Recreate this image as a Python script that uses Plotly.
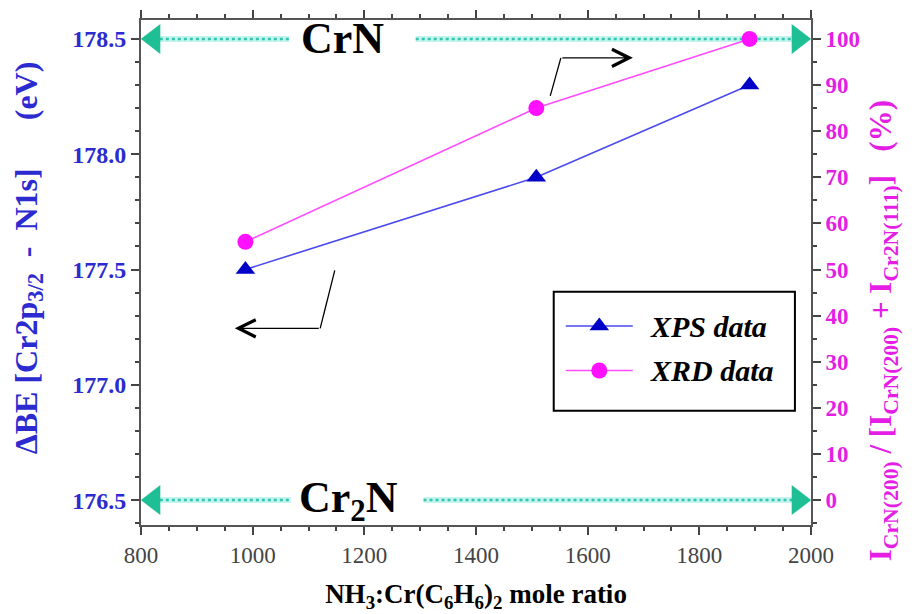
import plotly.graph_objects as go

# ---- data ----
mole_ratio = [987, 1508, 1890]
xps_be = [177.5, 177.9, 178.3]
xrd_pct = [56, 85, 100]

phase_names = ["CrN", "Cr<sub>2</sub>N"]
phase_be = [178.5, 176.5]
phase_label_x = [1160, 1172]
phase_gap_left = [1065, 1068]
phase_gap_right = [1292, 1306]

x_tickvals = [800, 1000, 1200, 1400, 1600, 1800, 2000]
y_tickvals = [176.5, 177.0, 177.5, 178.0, 178.5]
y_ticktext = ["176.5", "177.0", "177.5", "178.0", "178.5"]
y2_tickvals = [0, 10, 20, 30, 40, 50, 60, 70, 80, 90, 100]

legend_names = ["XPS data", "XRD data"]

# pointer arrows (start -> corner -> tip), in data units
lower_ptr_x = [1147, 1121, 968]
lower_ptr_y = [177.496, 177.245, 177.245]
upper_ptr_x = [1533, 1552, 1681]
upper_ptr_y = [178.253, 178.418, 178.418]

SERIF = "Liberation Serif"
BLUE = "#2b2bd0"
MAGENTA = "#e51ee5"
TEAL = "#1fbf95"
XMIN, XMAX = 800, 2000
ARROW_INSET = 23
NB = "\u00a0"

XPS_LINE = dict(color="#4a4af0", width=1.6)
XPS_MARK = dict(symbol="triangle-up", size=17, color="#0000c8")
XRD_LINE = dict(color="#ff4cff", width=1.6)
XRD_MARK = dict(symbol="circle", size=16, color="#ff10ff")

fig = go.Figure()

# phase guide lines with arrows
for name, yv, lx, gl, gr in zip(phase_names, phase_be, phase_label_x, phase_gap_left, phase_gap_right):
    for xs in ([XMIN + ARROW_INSET, gl], [gr, XMAX - ARROW_INSET]):
        fig.add_trace(go.Scatter(x=xs, y=[yv, yv], mode="lines",
                                 line=dict(color="rgba(170,240,232,0.7)", width=6),
                                 showlegend=False, hoverinfo="skip"))
        fig.add_trace(go.Scatter(x=xs, y=[yv, yv], mode="lines",
                                 line=dict(color="#37c4ad", width=2.5, dash="dot"),
                                 showlegend=False, hoverinfo="skip"))
    fig.add_trace(go.Scatter(x=[XMIN + ARROW_INSET, XMAX - ARROW_INSET], y=[yv, yv], mode="markers",
                             marker=dict(symbol=["triangle-left", "triangle-right"], size=26,
                                         color=TEAL, line=dict(width=0)),
                             showlegend=False, hoverinfo="skip"))
    fig.add_annotation(x=lx, y=yv, text=name, showarrow=False, xref="x", yref="y",
                       font=dict(family=SERIF, size=44, color="black", weight="bold"))

# pointer arrows
for px, py in ((lower_ptr_x, lower_ptr_y), (upper_ptr_x, upper_ptr_y)):
    fig.add_trace(go.Scatter(x=px[:2], y=py[:2], mode="lines",
                             line=dict(color="black", width=1.3),
                             showlegend=False, hoverinfo="skip"))
    fig.add_annotation(x=px[2], y=py[2], ax=px[1], ay=py[1], xref="x", yref="y",
                       axref="x", ayref="y", text="", showarrow=True,
                       arrowhead=5, arrowsize=2.6, arrowwidth=1.3, arrowcolor="black")

# data
fig.add_trace(go.Scatter(x=mole_ratio, y=xps_be, mode="lines+markers", name=legend_names[0],
                         line=XPS_LINE, marker=XPS_MARK, showlegend=False))
fig.add_trace(go.Scatter(x=mole_ratio, y=xrd_pct, mode="lines+markers", name=legend_names[1],
                         yaxis="y2", line=XRD_LINE, marker=XRD_MARK, showlegend=False))

# hand-built legend (box, samples, labels) in plot-area fractions
LEG_X0, LEG_X1, LEG_Y0, LEG_Y1 = 0.616, 0.976, 0.226, 0.462
SAMPLE_X0, SAMPLE_X1, TEXT_X = 0.634, 0.734, 0.757
ROW_Y = [0.394, 0.306]
fig.add_shape(type="rect", xref="paper", yref="paper", x0=LEG_X0, x1=LEG_X1, y0=LEG_Y0, y1=LEG_Y1,
              line=dict(color="black", width=2), fillcolor="white", layer="below")
for nm, ry, ln, mk in zip(legend_names, ROW_Y, (XPS_LINE, XRD_LINE), (XPS_MARK, XRD_MARK)):
    fig.add_trace(go.Scatter(x=[SAMPLE_X0, SAMPLE_X1], y=[ry, ry], xaxis="x3", yaxis="y3",
                             mode="lines", line=ln, showlegend=False, hoverinfo="skip"))
    fig.add_trace(go.Scatter(x=[(SAMPLE_X0 + SAMPLE_X1) / 2], y=[ry], xaxis="x3", yaxis="y3",
                             mode="markers", marker=mk, showlegend=False, hoverinfo="skip"))
    fig.add_annotation(x=TEXT_X, y=ry, xref="paper", yref="paper", text=nm, showarrow=False,
                       xanchor="left", yanchor="middle",
                       font=dict(family=SERIF, size=30, color="black", style="italic", weight="bold"))

# axis titles as annotations
fig.add_annotation(x=-0.168, y=0.529, xref="paper", yref="paper", textangle=-90, showarrow=False,
                   xanchor="center", yanchor="middle",
                   text="ΔBE" + NB + "[Cr2p<sub>3/2</sub>" + NB * 2 + "-" + NB * 2 + "N1s]" + NB * 6 + "(eV)",
                   font=dict(family=SERIF, size=32, color=BLUE, weight="bold"))
fig.add_annotation(x=1.107, y=0.385, xref="paper", yref="paper", textangle=-90, showarrow=False,
                   xanchor="center", yanchor="middle",
                   text="I<sub>CrN(200)</sub> / [I<sub>CrN(200)</sub> + I<sub>Cr2N(111)</sub>]" + NB * 3 + "(%)",
                   font=dict(family=SERIF, size=31, color=MAGENTA, weight="bold"))

fig.update_layout(
    width=921, height=614,
    margin=dict(l=133, r=118, t=12, b=97, autoexpand=False),
    paper_bgcolor="white", plot_bgcolor="white",
    font=dict(family=SERIF),
    xaxis=dict(range=[XMIN, XMAX], tickvals=x_tickvals, ticks="outside", ticklen=8,
               tickwidth=1.5, tickcolor="#444", showline=True, linecolor="#555",
               linewidth=2, mirror="ticks", showgrid=False, zeroline=False, automargin=False,
               minor=dict(dtick=50, ticks="outside", ticklen=4, tickcolor="#444"),
               tickfont=dict(family=SERIF, size=23, color="#444"),
               title=dict(text="NH<sub>3</sub>:Cr(C<sub>6</sub>H<sub>6</sub>)<sub>2</sub> mole ratio",
                          font=dict(family=SERIF, size=27, color="black", weight="bold"),
                          standoff=18)),
    yaxis=dict(range=[176.392, 178.582], tickvals=y_tickvals, ticktext=y_ticktext,
               ticks="outside", ticklen=8, tickwidth=1.5, tickcolor="#444", automargin=False,
               showline=True, linecolor="#555", linewidth=2, showgrid=False, zeroline=False,
               minor=dict(dtick=0.1, ticks="outside", ticklen=4, tickcolor="#444"),
               tickfont=dict(family=SERIF, size=24, color=BLUE, weight="bold")),
    yaxis2=dict(range=[-5.4, 104.1], overlaying="y", side="right", tickvals=y2_tickvals,
                ticks="outside", ticklen=8, tickwidth=1.5, tickcolor="#444", automargin=False,
                showline=True, linecolor="#555", linewidth=2, showgrid=False, zeroline=False,
                minor=dict(dtick=5, ticks="outside", ticklen=4, tickcolor="#444"),
                tickfont=dict(family=SERIF, size=23, color=MAGENTA, weight="bold")),
    xaxis3=dict(range=[0, 1], overlaying="x", visible=False, fixedrange=True),
    yaxis3=dict(range=[0, 1], overlaying="y", visible=False, fixedrange=True, anchor="x3"),
    showlegend=False,
)

fig.write_html("out.html")
